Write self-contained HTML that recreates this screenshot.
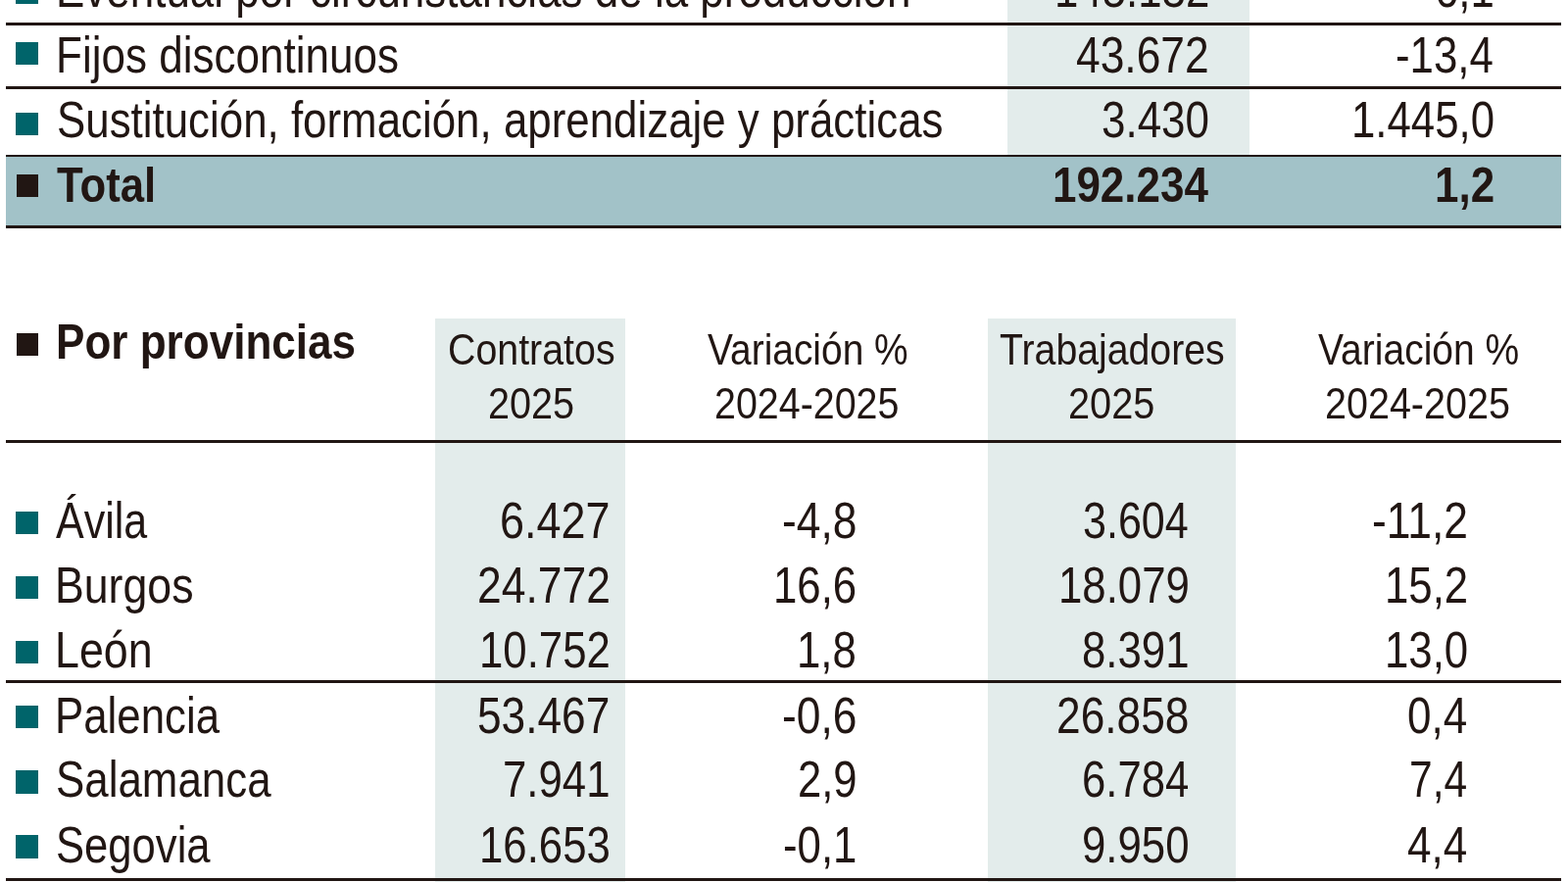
<!DOCTYPE html>
<html lang="es"><head><meta charset="utf-8"><title>Contratos por provincias</title>
<style>
html,body{margin:0;padding:0;background:#fff}
#g{position:relative;width:1600px;height:900px;overflow:hidden;background:#fff;font-family:"Liberation Sans",sans-serif;color:#211613}
.r,.q{position:absolute;display:block}
.t{position:absolute;white-space:nowrap;transform-origin:0 0;font-weight:400}
.b{font-weight:700}
</style></head><body><div id="g">
<div class="r" style="left:1027.5px;top:0px;width:247.5px;height:159px;background:#e3eceb"></div>
<div class="r" style="left:444.25px;top:325px;width:193.6px;height:575px;background:#e3eceb"></div>
<div class="r" style="left:1007.5px;top:325px;width:253.8px;height:575px;background:#e3eceb"></div>
<div class="r" style="left:6px;top:159px;width:1586.8px;height:73px;background:#a2c2c8"></div>
<div class="r" style="left:6px;top:23px;width:1586.8px;height:3px;background:#211613"></div>
<div class="r" style="left:6px;top:88.2px;width:1586.8px;height:2.8px;background:#211613"></div>
<div class="r" style="left:6px;top:157.7px;width:1586.8px;height:2.4px;background:#211613"></div>
<div class="r" style="left:6px;top:230.4px;width:1586.8px;height:2.8px;background:#211613"></div>
<div class="r" style="left:6px;top:449.1px;width:1586.8px;height:2.8px;background:#211613"></div>
<div class="r" style="left:6px;top:693.6px;width:1586.8px;height:3.1px;background:#211613"></div>
<div class="r" style="left:6px;top:895.8px;width:1586.8px;height:2.8px;background:#211613"></div>
<i class="q" style="left:16.4px;top:-19.20px;width:22.9px;height:23.1px;background:#00646a"></i>
<i class="q" style="left:16.4px;top:43.00px;width:22.9px;height:23.1px;background:#00646a"></i>
<i class="q" style="left:16.4px;top:115.00px;width:22.9px;height:23.1px;background:#00646a"></i>
<i class="q" style="left:16.6px;top:178.20px;width:22.4px;height:22.5px;background:#211613"></i>
<i class="q" style="left:16.6px;top:339.50px;width:22.7px;height:23.1px;background:#211613"></i>
<i class="q" style="left:16.3px;top:521.60px;width:22.8px;height:23.4px;background:#00646a"></i>
<i class="q" style="left:16.3px;top:587.75px;width:22.8px;height:23.4px;background:#00646a"></i>
<i class="q" style="left:16.3px;top:653.90px;width:22.8px;height:23.4px;background:#00646a"></i>
<i class="q" style="left:16.3px;top:720.05px;width:22.8px;height:23.4px;background:#00646a"></i>
<i class="q" style="left:16.3px;top:786.20px;width:22.8px;height:23.4px;background:#00646a"></i>
<i class="q" style="left:16.3px;top:852.35px;width:22.8px;height:23.4px;background:#00646a"></i>
<div class="row tipo r0">
<span class="t" style="left:56.89px;top:-36.00px;font-size:51.5px;line-height:51.5px;transform:scaleX(0.8536)">Eventual por circunstancias de la producción</span>
<span class="t" style="left:1075.76px;top:-36.00px;font-size:51.5px;line-height:51.5px;transform:scaleX(0.8500)">145.132</span>
<span class="t" style="left:1463.75px;top:-36.00px;font-size:51.5px;line-height:51.5px;transform:scaleX(0.8500)">6,1</span>
</div>
<div class="row tipo r1">
<span class="t" style="left:56.58px;top:31.00px;font-size:51.5px;line-height:51.5px;transform:scaleX(0.8548)">Fijos discontinuos</span>
<span class="t" style="left:1098.14px;top:31.00px;font-size:51.5px;line-height:51.5px;transform:scaleX(0.8613)">43.672</span>
<span class="t" style="left:1424.20px;top:31.00px;font-size:51.5px;line-height:51.5px;transform:scaleX(0.8506)">-13,4</span>
</div>
<div class="row tipo r2">
<span class="t" style="left:58.30px;top:97.00px;font-size:51.5px;line-height:51.5px;transform:scaleX(0.8517)">Sustitución, formación, aprendizaje y prácticas</span>
<span class="t" style="left:1123.85px;top:97.00px;font-size:51.5px;line-height:51.5px;transform:scaleX(0.8532)">3.430</span>
<span class="t" style="left:1378.55px;top:97.00px;font-size:51.5px;line-height:51.5px;transform:scaleX(0.8500)">1.445,0</span>
</div>
<div class="row tipo total">
<span class="t b" style="left:57.50px;top:164.00px;font-size:50.5px;line-height:50.5px;transform:scaleX(0.8652)">Total</span>
<span class="t b" style="left:1074.39px;top:164.00px;font-size:50.5px;line-height:50.5px;transform:scaleX(0.8700)">192.234</span>
<span class="t b" style="left:1463.52px;top:164.00px;font-size:50.5px;line-height:50.5px;transform:scaleX(0.8700)">1,2</span>
</div>
<div class="row prov head">
<span class="t b" style="left:56.88px;top:324.00px;font-size:50.5px;line-height:50.5px;transform:scaleX(0.8724)">Por provincias</span>
<span class="t" style="left:457.05px;top:334.00px;font-size:45px;line-height:45px;transform:scaleX(0.8742)">Contratos</span>
<span class="t" style="left:497.74px;top:389.00px;font-size:45px;line-height:45px;transform:scaleX(0.8807)">2025</span>
<span class="t" style="left:722.00px;top:334.00px;font-size:45px;line-height:45px;transform:scaleX(0.8644)">Variación %</span>
<span class="t" style="left:728.75px;top:389.00px;font-size:45px;line-height:45px;transform:scaleX(0.8757)">2024-2025</span>
<span class="t" style="left:1019.63px;top:334.00px;font-size:45px;line-height:45px;transform:scaleX(0.8717)">Trabajadores</span>
<span class="t" style="left:1089.53px;top:389.00px;font-size:45px;line-height:45px;transform:scaleX(0.8828)">2025</span>
<span class="t" style="left:1345.00px;top:334.00px;font-size:45px;line-height:45px;transform:scaleX(0.8665)">Variación %</span>
<span class="t" style="left:1352.04px;top:389.00px;font-size:45px;line-height:45px;transform:scaleX(0.8776)">2024-2025</span>
</div>
<div class="row prov p0">
<span class="t" style="left:57.00px;top:506.00px;font-size:51.5px;line-height:51.5px;transform:scaleX(0.8349)">Ávila</span>
<span class="t" style="left:510.16px;top:506.00px;font-size:51.5px;line-height:51.5px;transform:scaleX(0.8720)">6.427</span>
<span class="t" style="left:797.68px;top:506.00px;font-size:51.5px;line-height:51.5px;transform:scaleX(0.8613)">-4,8</span>
<span class="t" style="left:1105.16px;top:506.00px;font-size:51.5px;line-height:51.5px;transform:scaleX(0.8363)">3.604</span>
<span class="t" style="left:1400.48px;top:506.00px;font-size:51.5px;line-height:51.5px;transform:scaleX(0.8624)">-11,2</span>
</div>
<div class="row prov p1">
<span class="t" style="left:55.83px;top:572.00px;font-size:51.5px;line-height:51.5px;transform:scaleX(0.8671)">Burgos</span>
<span class="t" style="left:486.57px;top:572.00px;font-size:51.5px;line-height:51.5px;transform:scaleX(0.8630)">24.772</span>
<span class="t" style="left:789.00px;top:572.00px;font-size:51.5px;line-height:51.5px;transform:scaleX(0.8500)">16,6</span>
<span class="t" style="left:1079.71px;top:572.00px;font-size:51.5px;line-height:51.5px;transform:scaleX(0.8500)">18.079</span>
<span class="t" style="left:1412.80px;top:572.00px;font-size:51.5px;line-height:51.5px;transform:scaleX(0.8500)">15,2</span>
</div>
<div class="row prov p2">
<span class="t" style="left:56.02px;top:638.00px;font-size:51.5px;line-height:51.5px;transform:scaleX(0.8691)">León</span>
<span class="t" style="left:488.81px;top:638.00px;font-size:51.5px;line-height:51.5px;transform:scaleX(0.8500)">10.752</span>
<span class="t" style="left:813.35px;top:638.00px;font-size:51.5px;line-height:51.5px;transform:scaleX(0.8500)">1,8</span>
<span class="t" style="left:1104.06px;top:638.00px;font-size:51.5px;line-height:51.5px;transform:scaleX(0.8500)">8.391</span>
<span class="t" style="left:1412.80px;top:638.00px;font-size:51.5px;line-height:51.5px;transform:scaleX(0.8500)">13,0</span>
</div>
<div class="row prov p3">
<span class="t" style="left:55.90px;top:705.00px;font-size:51.5px;line-height:51.5px;transform:scaleX(0.8509)">Palencia</span>
<span class="t" style="left:487.18px;top:705.00px;font-size:51.5px;line-height:51.5px;transform:scaleX(0.8591)">53.467</span>
<span class="t" style="left:797.68px;top:705.00px;font-size:51.5px;line-height:51.5px;transform:scaleX(0.8613)">-0,6</span>
<span class="t" style="left:1078.38px;top:705.00px;font-size:51.5px;line-height:51.5px;transform:scaleX(0.8598)">26.858</span>
<span class="t" style="left:1436.39px;top:705.00px;font-size:51.5px;line-height:51.5px;transform:scaleX(0.8542)">0,4</span>
</div>
<div class="row prov p4">
<span class="t" style="left:57.10px;top:770.00px;font-size:51.5px;line-height:51.5px;transform:scaleX(0.8523)">Salamanca</span>
<span class="t" style="left:513.16px;top:770.00px;font-size:51.5px;line-height:51.5px;transform:scaleX(0.8500)">7.941</span>
<span class="t" style="left:813.51px;top:770.00px;font-size:51.5px;line-height:51.5px;transform:scaleX(0.8462)">2,9</span>
<span class="t" style="left:1103.70px;top:770.00px;font-size:51.5px;line-height:51.5px;transform:scaleX(0.8476)">6.784</span>
<span class="t" style="left:1438.45px;top:770.00px;font-size:51.5px;line-height:51.5px;transform:scaleX(0.8252)">7,4</span>
</div>
<div class="row prov p5">
<span class="t" style="left:57.11px;top:837.00px;font-size:51.5px;line-height:51.5px;transform:scaleX(0.8468)">Segovia</span>
<span class="t" style="left:488.81px;top:837.00px;font-size:51.5px;line-height:51.5px;transform:scaleX(0.8500)">16.653</span>
<span class="t" style="left:798.77px;top:837.00px;font-size:51.5px;line-height:51.5px;transform:scaleX(0.8500)">-0,1</span>
<span class="t" style="left:1104.30px;top:837.00px;font-size:51.5px;line-height:51.5px;transform:scaleX(0.8496)">9.950</span>
<span class="t" style="left:1436.35px;top:837.00px;font-size:51.5px;line-height:51.5px;transform:scaleX(0.8549)">4,4</span>
</div>
</div></body></html>
